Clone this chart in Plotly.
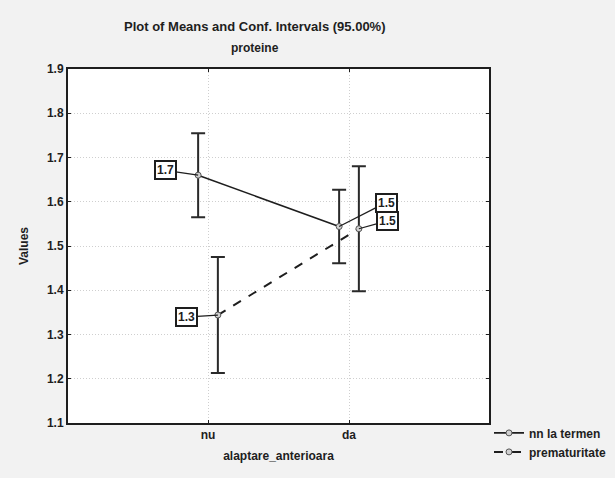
import plotly.graph_objects as go

categories = ["nu", "da"]
series_names = ["nn la termen", "prematuritate"]
means_termen = [1.660, 1.544]
ci_termen = [0.095, 0.083]
means_premat = [1.344, 1.539]
ci_premat = [0.131, 0.141]
y_ticks = [1.1, 1.2, 1.3, 1.4, 1.5, 1.6, 1.7, 1.8, 1.9]

FONT = "Liberation Sans"
INK = "#1e1e1e"
offset = 0.07
x_base = list(range(len(categories)))


def bfont(size=12):
    return dict(family=FONT, size=size, color=INK, weight="bold")


fig = go.Figure()

styles = [
    dict(means=means_termen, ci=ci_termen, dx=-offset, dash="solid", width=1.6,
         label_off=[(-33, -5), (47, -24)]),
    dict(means=means_premat, ci=ci_premat, dx=offset, dash="dash", width=2,
         label_off=[(-31, 2), (29, -8)]),
]

for name, st in zip(series_names, styles):
    xs = [i + st["dx"] for i in x_base]
    fig.add_trace(go.Scatter(
        x=xs, y=st["means"], name=name, mode="lines+markers",
        line=dict(color=INK, width=st["width"], dash=st["dash"]),
        marker=dict(symbol="circle", size=6, color="#d0d0d0",
                    line=dict(color="#555555", width=1)),
        error_y=dict(type="data", array=st["ci"], visible=True,
                     color="#2a2a2a", thickness=2, width=7),
    ))
    for xv, yv, (ax, ay) in zip(xs, st["means"], st["label_off"]):
        fig.add_annotation(
            x=xv, y=yv, xref="x", yref="y", text=f"{yv:.1f}",
            showarrow=True, arrowhead=0, arrowwidth=1.2, arrowcolor=INK,
            ax=ax, ay=ay, bgcolor="white", bordercolor=INK, borderwidth=2,
            borderpad=1, font=bfont(12),
        )

fig.add_annotation(text="Plot of Means and Conf. Intervals (95.00%)",
                   xref="paper", yref="paper", x=0.444, y=1.121, showarrow=False,
                   xanchor="center", yanchor="middle", font=bfont(13))
fig.add_annotation(text="proteine",
                   xref="paper", yref="paper", x=0.444, y=1.059, showarrow=False,
                   xanchor="center", yanchor="middle", font=bfont(12))

fig.update_layout(
    width=615, height=478,
    margin=dict(l=68, r=126, t=69, b=55, autoexpand=False),
    paper_bgcolor="#f2f2f2", plot_bgcolor="white",
    font=bfont(12),
    showlegend=True,
    legend=dict(x=1.0, y=0.013, xanchor="left", yanchor="top",
                bgcolor="rgba(0,0,0,0)", font=bfont(12),
                tracegroupgap=0, itemwidth=30),
)
grid = dict(showgrid=True, gridcolor="#cfcfcf", griddash="1px,2px", gridwidth=1,
            showline=True, linecolor=INK, linewidth=2, mirror="ticks",
            ticks="inside", ticklen=3, tickcolor=INK, zeroline=False,
            tickfont=bfont(12))
fig.update_xaxes(
    range=[-0.993, 1.993], tickvals=x_base, ticktext=categories,
    title=dict(text="alaptare_anterioara", font=bfont(12), standoff=10),
    **grid,
)
fig.update_yaxes(
    range=[1.1, 1.9], tickvals=y_ticks, ticktext=[f"{v:.1f}" for v in y_ticks],
    title=dict(text="Values", font=bfont(12), standoff=16),
    **grid,
)

fig.write_html("out.html")
